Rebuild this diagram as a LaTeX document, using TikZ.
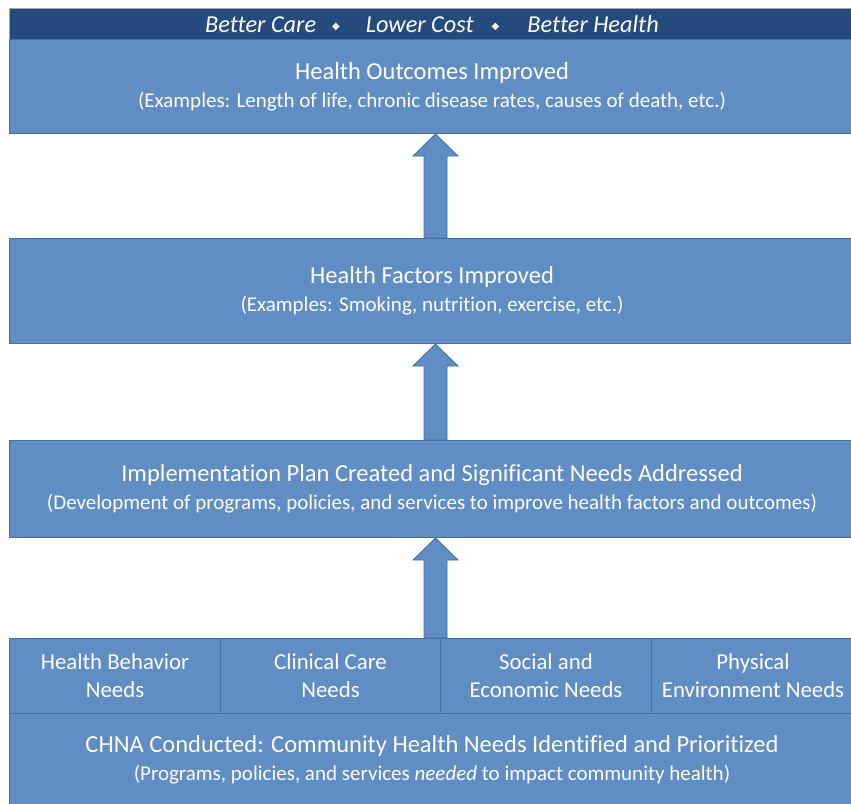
\documentclass[tikz,border=0pt]{standalone}
\usepackage{fontspec}
\setmainfont[Ligatures=NoCommon]{Carlito}
\newfontfamily\symfont{DejaVu Sans}
\usetikzlibrary{calc}
\definecolor{boxfill}{HTML}{5F8DC4}
\definecolor{boxline}{HTML}{41719C}
\definecolor{band}{HTML}{254A7E}
\tikzset{
  x=1pt, y=-1pt,
  box/.style={draw=boxline, line width=1pt, fill=boxfill, text=white, inner sep=0pt, align=center,
    font=\fontsize{24.5}{28}\selectfont},
  cell/.style={box, font=\fontsize{22.8}{28}\selectfont},
  bandbox/.style={draw=gray!70, line width=0.8pt, fill=band, text=white, inner sep=0pt},
  blockarrow/.style={draw=boxline, line width=0.8pt, fill=boxfill},
}
\newcommand{\sbl}[1]{{\fontsize{21}{28}\selectfont #1}}
\newcommand{\dm}{{\symfont\fontsize{10}{12}\selectfont\raisebox{3pt}{\char"25C6}}}
\begin{document}
\begin{tikzpicture}
\useasboundingbox (0,0) rectangle (851,803);
\fill[white] (0,0) rectangle (851,803);
% band
\node[bandbox, minimum width=845pt, minimum height=31pt, anchor=north west] (band) at (9,8)
  {\fontsize{24.3}{28}\selectfont\itshape Better Care\hspace{16pt}\dm\hspace{26pt}Lower Cost\hspace{18pt}\dm\hspace{28pt}Better Health};
% boxes
\node[box, minimum width=845pt, minimum height=94pt, anchor=north west] (b1) at (9,39)
  {Health Outcomes Improved\\\sbl{(Examples: Length of life, chronic disease rates, causes of death, etc.)}};
\node[box, minimum width=845pt, minimum height=105pt, anchor=north west] (b2) at (9,238)
  {Health Factors Improved\\\sbl{(Examples: Smoking, nutrition, exercise, etc.)}};
\node[box, minimum width=845pt, minimum height=97pt, anchor=north west] (b3) at (9,440)
  {Implementation Plan Created and Significant Needs Addressed\\\sbl{(Development of programs, policies, and services to improve health factors and outcomes)}};
% need cells
\node[cell, minimum width=211pt, minimum height=75pt, anchor=north west] (c1) at (9,638)
  {Health Behavior\\Needs};
\node[cell, minimum width=220pt, minimum height=75pt, anchor=north west] (c2) at (220,638)
  {Clinical Care\\Needs};
\node[cell, minimum width=211pt, minimum height=75pt, anchor=north west] (c3) at (440,638)
  {Social and\\Economic Needs};
\node[cell, minimum width=203pt, minimum height=75pt, anchor=north west] (c4) at (651,638)
  {Physical\\Environment Needs};
\node[box, minimum width=845pt, minimum height=92pt, anchor=north west] (b0) at (9,713)
  {CHNA Conducted: Community Health Needs Identified and Prioritized\\\sbl{(Programs, policies, and services \emph{needed} to impact community health)}};
% arrows
\coordinate (ax) at (435.5,0);
\foreach \lo/\hi in {b2/b1, b3/b2, c3/b3}{
  \draw[blockarrow] let \p1=(\lo.north -| ax), \p2=(\hi.south -| ax) in
    (\x1-11.5,\y1) -- (\x1-11.5,\y2-22) -- (\x1-22.5,\y2-22) -- (\x1,\y2) --
    (\x1+22.5,\y2-22) -- (\x1+11.5,\y2-22) -- (\x1+11.5,\y1) -- cycle;
}
\end{tikzpicture}
\end{document}
